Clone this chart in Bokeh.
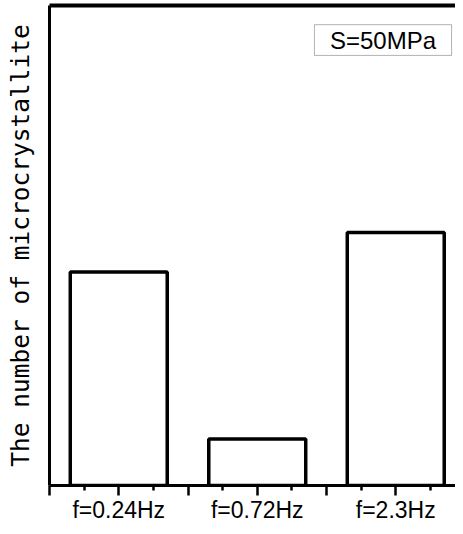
from bokeh.plotting import figure
from bokeh.models import (LinearAxis, FixedTicker, Range1d, BoxAnnotation, Label,
                          ColumnDataSource)
from bokeh.embed import file_html
from bokeh.resources import INLINE

# ---- data ----
categories = ["f=0.24Hz", "f=0.72Hz", "f=2.3Hz"]
values = [44.5, 9.7, 52.7]
y_label = "The number of microcrystallite"
legend_text = "S=50MPa"

positions = list(range(1, len(categories) + 1))
src = ColumnDataSource(dict(x=positions, top=values, cat=categories))

# ---- layout (pixels) ----
W, H = 455, 526
left_px, top_px, bottom_px = 49, 5, 485
unit_px = 138.5
x_end = 0.5 + (W - left_px) / unit_px

p = figure(width=W, height=H, output_backend="svg", toolbar_location=None,
           x_range=Range1d(0.5, x_end), y_range=Range1d(0, 100),
           min_border_left=left_px, min_border_right=0, min_border_top=top_px,
           min_border_bottom=H - bottom_px, outline_line_color=None,
           background_fill_color="white", border_fill_color="white")
p.grid.visible = False

p.vbar(x="x", top="top", bottom=0, width=0.7, source=src,
       fill_color="white", line_color="black", line_width=3.5)

# bottom axis
xa = p.xaxis[0]
major = [0.5 + 0.5 * i for i in range(2 * len(categories) + 1)]
minor = [m + 0.25 for m in major[:-1]]
xa.ticker = FixedTicker(ticks=major, minor_ticks=minor)
xa.major_label_overrides = {m: (categories[int(m) - 1] if float(m).is_integer() else "")
                            for m in major}
xa.axis_line_width = 3
xa.major_tick_line_width = 2.5
xa.minor_tick_line_width = 2.5
xa.major_tick_out = 10
xa.major_tick_in = 0
xa.minor_tick_out = 5
xa.minor_tick_in = 0
xa.major_label_text_font = "Liberation Sans"
xa.major_label_text_font_size = "23px"
xa.major_label_text_color = "black"
xa.major_label_standoff = 1

# left axis
ya = p.yaxis[0]
ya.ticker = FixedTicker(ticks=[])
ya.axis_line_width = 3
ya.axis_label = y_label
ya.axis_label_text_font = "DejaVu Sans Mono"
ya.axis_label_text_font_size = "24.5px"
ya.axis_label_text_font_style = "normal"
ya.axis_label_text_color = "black"
ya.axis_label_standoff = 15

# top border line
top_axis = LinearAxis(ticker=FixedTicker(ticks=[]), axis_line_width=4)
p.add_layout(top_axis, "above")

# annotation box
p.add_layout(BoxAnnotation(left=2.413, right=3.403, top=96.0, bottom=89.6,
                           fill_alpha=0, line_color="black", line_width=1))
p.add_layout(Label(x=2.908, y=92.8, text=legend_text, text_align="center",
                   text_baseline="middle", text_font="Liberation Sans",
                   text_font_size="24px", text_color="black"))

open("out.html", "w").write(file_html(p, INLINE))
